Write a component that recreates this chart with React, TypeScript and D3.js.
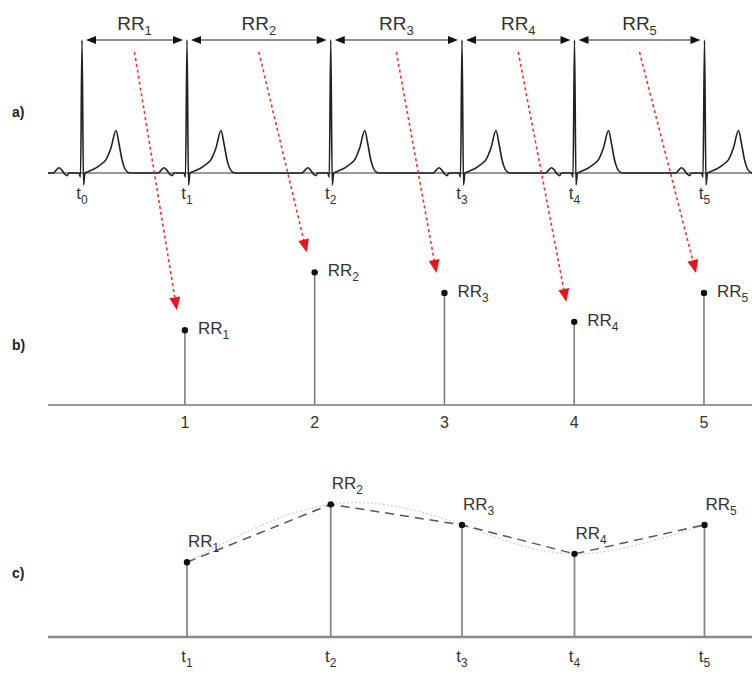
import React from 'react';
import * as d3 from 'd3';

// beat (R peak) times in seconds
const beatTimes = [0, 0.84, 1.99, 3.04, 3.94, 4.98];
const beatLabels = ['0', '1', '2', '3', '4', '5'];
const rrValues = [0.84, 1.15, 1.04, 0.885, 1.04];
const rrIndex = [1, 2, 3, 4, 5];
const rrLabels = ['1', '2', '3', '4', '5'];

// one heartbeat, relative to its R peak: time (s) and amplitude (mV)
const ecgT = [-0.232, -0.208, -0.184, -0.16, -0.136, -0.12, -0.104, -0.024, -0.012, 0, 0.012, 0.024,
  0.048, 0.096, 0.144, 0.192, 0.232, 0.272, 0.296, 0.32, 0.344, 0.368, 0.384];
const ecgMv = [0, 0.02, 0.04, 0.02, -0.01, -0.02, 0, 0, -0.03, 1.0, -0.09, 0,
  0.01, 0.03, 0.06, 0.1, 0.19, 0.32, 0.22, 0.1, 0.03, 0.005, 0];

const W = 752;
const H = 675;
const font = 'Liberation Sans, Arial, sans-serif';

const head = (x1: number, y1: number, x2: number, y2: number, len: number, hw: number) => {
  const dx = x2 - x1, dy = y2 - y1;
  const l = Math.hypot(dx, dy);
  const ux = dx / l, uy = dy / l;
  const bx = x2 - ux * len, by = y2 - uy * len;
  return `${x2},${y2} ${bx - uy * hw},${by + ux * hw} ${bx + uy * hw},${by - ux * hw}`;
};

const App = () => {
  const xTime = d3.scaleLinear().domain([-0.272, 5.36]).range([48, 752]);
  const xIdx = d3.scaleLinear().domain([-0.055, 5.37]).range([48, 752]);
  const yEcg = d3.scaleLinear().domain([0, 1]).range([173, 40]);
  const baseB = 405;
  const baseC = 637;
  const yB = d3.scaleLinear().domain([0.44, 1.2]).range([baseB, baseB - 142]);
  const yC = d3.scaleLinear().domain([0.44, 1.2]).range([baseC, baseC - 142]);

  // ecg trace
  const ecgPts: [number, number][] = [[-0.272, 0]];
  beatTimes.concat([6.0]).forEach(bt => {
    ecgT.forEach((t, i) => ecgPts.push([bt + t, ecgMv[i]]));
  });
  const ecgLine = d3.line<[number, number]>()
    .x(d => xTime(d[0]))
    .y(d => yEcg(d[1]))
    .curve(d3.curveMonotoneX);

  const cPts: [number, number][] = rrValues.map((v, i) => [xTime(beatTimes[i + 1]), yC(v)]);
  const straight = d3.line().curve(d3.curveLinear);
  const spline = d3.line().curve(d3.curveNatural);

  return (
    <svg width={W} height={H} style={{ display: 'block', background: '#fff' }} fontFamily={font}>
      <style>{'body{margin:0}'}</style>

      {/* panel labels */}
      <g fontWeight="bold" fontSize={14} fill="#222">
        <text x={12} y={117}>a)</text>
        <text x={12} y={350}>b)</text>
        <text x={12} y={578}>c)</text>
      </g>

      {/* ---- panel a ---- */}
      <line x1={48} x2={752} y1={yEcg(0)} y2={yEcg(0)} stroke="#333" strokeWidth={1.2} />
      <path d={ecgLine(ecgPts) || ''} fill="none" stroke="#222" strokeWidth={1.6} />
      {beatTimes.map((t, i) => (
        <text key={'tl' + i} x={xTime(t)} y={199} fontSize={17} fill="#333" textAnchor="middle">
          t<tspan fontSize={12} dy={5}>{beatLabels[i]}</tspan>
        </text>
      ))}
      {d3.pairs(beatTimes).map(([a, b], i) => {
        const x1 = xTime(a) + 4, x2 = xTime(b) - 4, y = 40;
        return (
          <g key={'rr' + i}>
            <line x1={x1 + 8} x2={x2 - 8} y1={y} y2={y} stroke="#222" strokeWidth={1} />
            <polygon points={head(x2, y, x1, y, 10, 4)} fill="#111" />
            <polygon points={head(x1, y, x2, y, 10, 4)} fill="#111" />
            <text x={(x1 + x2) / 2} y={30} fontSize={19} fill="#333" textAnchor="middle">
              RR<tspan fontSize={13} dy={5}>{rrLabels[i]}</tspan>
            </text>
          </g>
        );
      })}

      {/* ---- panel b ---- */}
      <line x1={48} x2={752} y1={baseB} y2={baseB} stroke="#777" strokeWidth={1.5} />
      {rrValues.map((v, i) => {
        const x = xIdx(rrIndex[i]), y = yB(v);
        return (
          <g key={'b' + i}>
            <line x1={x} x2={x} y1={baseB} y2={y} stroke="#777" strokeWidth={1.5} />
            <circle cx={x} cy={y} r={3.2} fill="#111" />
            <text x={x + 13} y={y + 4} fontSize={17} fill="#333">
              RR<tspan fontSize={12} dy={5}>{rrLabels[i]}</tspan>
            </text>
            <text x={x} y={428} fontSize={16} fill="#333" textAnchor="middle">{rrLabels[i]}</text>
          </g>
        );
      })}

      {/* red mapping arrows a -> b */}
      {d3.pairs(beatTimes).map(([a, b], i) => {
        const sx = xTime((a + b) / 2), sy = 52;
        const ex = xIdx(rrIndex[i]) - 8, ey = yB(rrValues[i]) - 20;
        const l = Math.hypot(ex - sx, ey - sy);
        const lx = ex - (ex - sx) / l * 11, ly = ey - (ey - sy) / l * 11;
        return (
          <g key={'ra' + i}>
            <line x1={sx} y1={sy} x2={lx} y2={ly} stroke="#f03030" strokeWidth={1.6} strokeDasharray="3,3" />
            <polygon points={head(sx, sy, ex, ey, 13, 5.5)} fill="#e8141e" />
          </g>
        );
      })}

      {/* ---- panel c ---- */}
      <line x1={48} x2={752} y1={baseC} y2={baseC} stroke="#888" strokeWidth={2.5} />
      <path d={spline(cPts) || ''} fill="none" stroke="#cfcfcf" strokeWidth={1.2} strokeDasharray="2,2" />
      <path d={straight(cPts) || ''} fill="none" stroke="#555" strokeWidth={1.5} strokeDasharray="9,6" />
      {cPts.map(([x, y], i) => (
        <g key={'c' + i}>
          <line x1={x} x2={x} y1={baseC} y2={y} stroke="#888" strokeWidth={1.8} />
          <circle cx={x} cy={y} r={3.2} fill="#111" />
          <text x={x + 1} y={y - 15} fontSize={17} fill="#333">
            RR<tspan fontSize={12} dy={5}>{rrLabels[i]}</tspan>
          </text>
          <text x={x} y={662} fontSize={17} fill="#333" textAnchor="middle">
            t<tspan fontSize={12} dy={5}>{beatLabels[i + 1]}</tspan>
          </text>
        </g>
      ))}
    </svg>
  );
};

export default App;
